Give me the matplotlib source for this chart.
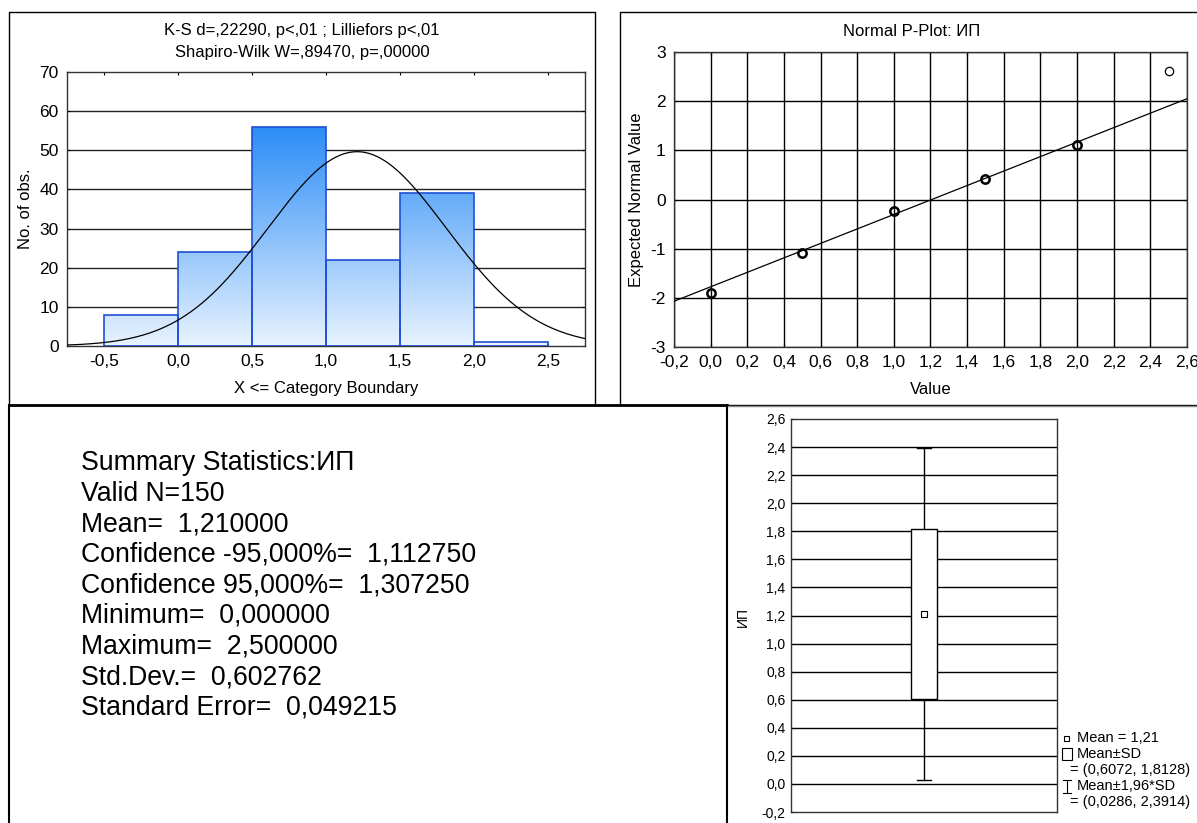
import numpy as np
import matplotlib
matplotlib.use("Agg")
import matplotlib.pyplot as plt
from matplotlib.patches import Rectangle
from matplotlib.lines import Line2D
from matplotlib.colors import LinearSegmentedColormap

plt.rcParams['font.family'] = ['Liberation Sans', 'DejaVu Sans']
plt.rcParams['axes.unicode_minus'] = False

# histogram data
bin_left = [-0.5, 0.0, 0.5, 1.0, 1.5, 2.0]
bin_width = 0.5
counts = [8, 24, 56, 22, 39, 1]
hist_xticks = [-0.5, 0.0, 0.5, 1.0, 1.5, 2.0, 2.5]
hist_xlabels = ['-0,5', '0,0', '0,5', '1,0', '1,5', '2,0', '2,5']
hist_yticks = [0, 10, 20, 30, 40, 50, 60, 70]

# summary values
n_valid = 150
mean_val = 1.21
sd_val = 0.602762

# normal p-plot data
pp_x = [0.0, 0.5, 1.0, 1.5, 2.0, 2.5]
pp_y = [-1.91, -1.09, -0.24, 0.42, 1.10, 2.62]
pp_n = [8, 24, 56, 22, 39, 1]
fit_x = [-0.2, 2.6]
fit_y = [-2.07, 2.05]
pp_xticks = [-0.2, 0.0, 0.2, 0.4, 0.6, 0.8, 1.0, 1.2, 1.4, 1.6, 1.8, 2.0, 2.2, 2.4, 2.6]
pp_xlabels = ['-0,2', '0,0', '0,2', '0,4', '0,6', '0,8', '1,0', '1,2', '1,4', '1,6',
              '1,8', '2,0', '2,2', '2,4', '2,6']
pp_yticks = [-3, -2, -1, 0, 1, 2, 3]

# box plot data
box_lo, box_hi = 0.6072, 1.8128
whisk_lo, whisk_hi = 0.0286, 2.3914
box_yticks = [-0.2, 0.0, 0.2, 0.4, 0.6, 0.8, 1.0, 1.2, 1.4, 1.6, 1.8, 2.0, 2.2, 2.4, 2.6]
box_ylabels = ['-0,2', '0,0', '0,2', '0,4', '0,6', '0,8', '1,0', '1,2', '1,4', '1,6',
               '1,8', '2,0', '2,2', '2,4', '2,6']

summary_lines = [
    'Summary Statistics:ИП',
    'Valid N=150',
    'Mean=  1,210000',
    'Confidence -95,000%=  1,112750',
    'Confidence 95,000%=  1,307250',
    'Minimum=  0,000000',
    'Maximum=  2,500000',
    'Std.Dev.=  0,602762',
    'Standard Error=  0,049215',
]

W, H = 1197, 823
fig = plt.figure(figsize=(W / 100, H / 100), dpi=100)


def px_axes(l, t, r, b):
    return fig.add_axes([l / W, 1 - b / H, (r - l) / W, (b - t) / H])


def fx(x):
    return x / W


def fy(y):
    return 1 - y / H


# panel frames
fig.add_artist(Rectangle((fx(9), fy(405)), fx(595 - 9), (405 - 12) / H, transform=fig.transFigure,
                         fill=False, edgecolor='black', lw=1))
fig.add_artist(Rectangle((fx(620), fy(405)), fx(1210 - 620), (405 - 12) / H, transform=fig.transFigure,
                         fill=False, edgecolor='black', lw=1))
fig.add_artist(Line2D([fx(9), fx(727)], [fy(405), fy(405)], transform=fig.transFigure, color='black', lw=2))
fig.add_artist(Line2D([fx(727), fx(1197)], [fy(405.5), fy(405.5)], transform=fig.transFigure, color='#888888', lw=1))
fig.add_artist(Line2D([fx(9), fx(9)], [fy(405), fy(823)], transform=fig.transFigure, color='black', lw=1.5))
fig.add_artist(Line2D([fx(727), fx(727)], [fy(405), fy(823)], transform=fig.transFigure, color='black', lw=1.5))


def style_axes(ax, size):
    for s in ax.spines.values():
        s.set_color('#333333')
        s.set_linewidth(1)
    ax.tick_params(direction='in', length=2, labelsize=size, top=True, right=True, colors='black')


# ---- histogram ----
ax1 = px_axes(67, 72, 585, 346)
style_axes(ax1, 12.5)
ax1.tick_params(axis='x', pad=6)
ax1.tick_params(axis='y', pad=6)
for yv in hist_yticks[1:-1]:
    ax1.axhline(yv, color='#222222', lw=1, zorder=1)
cmap = LinearSegmentedColormap.from_list('bl', ['#e8f3ff', '#2b8cf6'])
grad = np.linspace(0, 1, 256).reshape(-1, 1)
top = max(counts)
for left, c in zip(bin_left, counts):
    rect = Rectangle((left, 0), bin_width, c, facecolor='none', edgecolor='#1f4fd6', lw=1.2, zorder=3)
    ax1.add_patch(rect)
    im = ax1.imshow(grad, extent=[left, left + bin_width, 0, top], origin='lower', cmap=cmap,
                    aspect='auto', zorder=2)
    im.set_clip_path(rect)
xs = np.linspace(-0.75, 2.75, 400)
ys = n_valid * bin_width * np.exp(-0.5 * ((xs - mean_val) / sd_val) ** 2) / (sd_val * np.sqrt(2 * np.pi))
ax1.plot(xs, ys, color='black', lw=0.9, zorder=4)
ax1.set_xlim(-0.75, 2.75)
ax1.set_ylim(0, 70)
ax1.set_xticks(hist_xticks)
ax1.set_xticklabels(hist_xlabels)
ax1.set_yticks(hist_yticks)
fig.text(fx(302), fy(31), 'K-S d=,22290, p<,01 ; Lilliefors p<,01', ha='center', va='center', fontsize=12)
fig.text(fx(302), fy(52), 'Shapiro-Wilk W=,89470, p=,00000', ha='center', va='center', fontsize=12)
fig.text(fx(26), fy(209), 'No. of obs.', rotation=90, ha='center', va='center', fontsize=12)
fig.text(fx(326), fy(389), 'X <= Category Boundary', ha='center', va='center', fontsize=12)

# ---- normal p-plot ----
ax2 = px_axes(674, 52, 1187, 347)
style_axes(ax2, 12.5)
ax2.tick_params(axis='x', pad=6)
ax2.tick_params(axis='y', pad=6)
ax2.grid(True, color='black', lw=1)
ax2.set_axisbelow(True)
ax2.plot(fit_x, fit_y, color='black', lw=0.9, zorder=3)
for x, y, n in zip(pp_x, pp_y, pp_n):
    ax2.plot(x, y, 'o', ms=6, mfc='none', mec='black', mew=1.8 if n > 1 else 0.9, zorder=4)
ax2.set_xlim(-0.2, 2.6)
ax2.set_ylim(-3, 3)
ax2.set_xticks(pp_xticks)
ax2.set_xticklabels(pp_xlabels)
ax2.set_yticks(pp_yticks)
fig.text(fx(912), fy(31), 'Normal P-Plot: ИП', ha='center', va='center', fontsize=12)
fig.text(fx(637), fy(200), 'Expected Normal Value', rotation=90, ha='center', va='center', fontsize=12)
fig.text(fx(931), fy(390), 'Value', ha='center', va='center', fontsize=12)

# ---- summary text ----
for i, line in enumerate(summary_lines):
    fig.text(fx(81), fy(463 + i * 30.6), line, ha='left', va='center', fontsize=19.2)

# ---- box plot ----
ax3 = px_axes(791, 419, 1057, 812)
style_axes(ax3, 10)
ax3.tick_params(axis='y', pad=4, right=False)
ax3.tick_params(axis='x', top=False, bottom=False, labelbottom=False)
for yv in box_yticks[1:-1]:
    ax3.axhline(yv, color='black', lw=1, zorder=1)
ax3.plot([0, 0], [whisk_lo, whisk_hi], color='black', lw=1, zorder=2)
ax3.plot([-0.05, 0.05], [whisk_lo, whisk_lo], color='black', lw=1, zorder=2)
ax3.plot([-0.05, 0.05], [whisk_hi, whisk_hi], color='black', lw=1, zorder=2)
ax3.add_patch(Rectangle((-0.1, box_lo), 0.2, box_hi - box_lo, facecolor='white', edgecolor='black',
                        lw=1, zorder=3))
ax3.plot(0, mean_val, 's', ms=4, mfc='white', mec='black', mew=0.8, zorder=4)
ax3.set_xlim(-1, 1)
ax3.set_ylim(-0.2, 2.6)
ax3.set_yticks(box_yticks)
ax3.set_yticklabels(box_ylabels)
fig.text(fx(743), fy(617), 'ИП', rotation=90, ha='center', va='center', fontsize=10)

# legend
fig.text(fx(1077), fy(738), 'Mean = 1,21', ha='left', va='center', fontsize=10.5)
fig.text(fx(1077), fy(754), 'Mean±SD', ha='left', va='center', fontsize=10.5)
fig.text(fx(1070), fy(770), '= (0,6072, 1,8128)', ha='left', va='center', fontsize=10.5)
fig.text(fx(1077), fy(786), 'Mean±1,96*SD', ha='left', va='center', fontsize=10.5)
fig.text(fx(1070), fy(802), '= (0,0286, 2,3914)', ha='left', va='center', fontsize=10.5)
fig.add_artist(Rectangle((fx(1064), fy(740.5)), fx(5), 5 / H, transform=fig.transFigure,
                         fill=False, edgecolor='black', lw=0.8))
fig.add_artist(Rectangle((fx(1062), fy(760)), fx(10), 12 / H, transform=fig.transFigure,
                         fill=False, edgecolor='black', lw=0.8))
fig.add_artist(Line2D([fx(1067), fx(1067)], [fy(780), fy(793)], transform=fig.transFigure, color='black', lw=0.8))
fig.add_artist(Line2D([fx(1063), fx(1071)], [fy(780), fy(780)], transform=fig.transFigure, color='black', lw=0.8))
fig.add_artist(Line2D([fx(1063), fx(1071)], [fy(793), fy(793)], transform=fig.transFigure, color='black', lw=0.8))

fig.savefig('out.png', dpi=100)
